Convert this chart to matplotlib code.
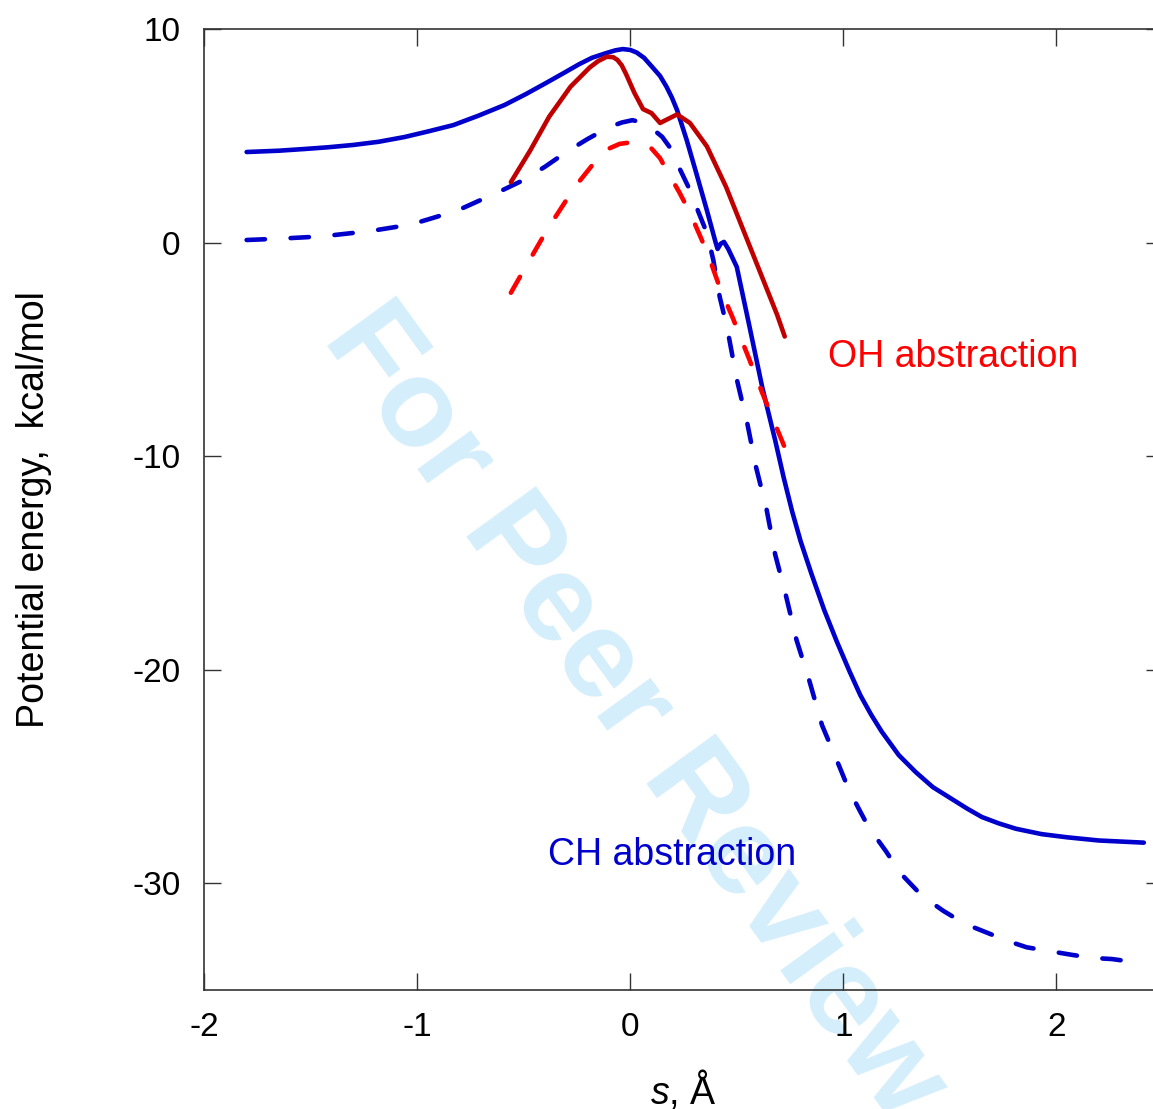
import matplotlib
matplotlib.use('Agg')
import matplotlib.pyplot as plt

plt.rcParams['font.family'] = ['Liberation Sans', 'DejaVu Sans']
plt.rcParams['axes.unicode_minus'] = False
plt.rcParams['mathtext.fontset'] = 'custom'
plt.rcParams['mathtext.it'] = 'Liberation Sans:italic'
plt.rcParams['mathtext.rm'] = 'Liberation Sans'

# ---------------------------------  data  ---------------------------------
# CH abstraction, solid
ch_solid_s = [-1.80, -1.65, -1.53, -1.42, -1.30, -1.18, -1.06, -0.95, -0.83, -0.71,
              -0.59, -0.49, -0.39, -0.31, -0.24, -0.18, -0.11, -0.07, -0.035, 0.0,
              0.03, 0.065, 0.105, 0.14, 0.17, 0.195, 0.22, 0.265, 0.31, 0.36,
              0.40, 0.41, 0.425, 0.44, 0.46, 0.50, 0.56, 0.62, 0.68, 0.72,
              0.76, 0.80, 0.85, 0.91, 0.97, 1.03, 1.08, 1.13, 1.18, 1.26,
              1.34, 1.42, 1.50, 1.58, 1.65, 1.73, 1.81, 1.93, 2.05, 2.20, 2.41]
ch_solid_e = [4.24, 4.30, 4.38, 4.46, 4.57, 4.72, 4.94, 5.2, 5.5, 5.95,
              6.44, 6.95, 7.5, 7.95, 8.35, 8.65, 8.88, 9.0, 9.06, 9.02,
              8.9, 8.65, 8.2, 7.8, 7.3, 6.8, 6.2, 4.8, 3.25, 1.5,
              0.03, -0.3, -0.05, 0.03, -0.3, -1.14, -3.95, -6.8, -9.25, -11.0,
              -12.6, -14.0, -15.5, -17.2, -18.7, -20.1, -21.2, -22.1, -22.9, -24.0,
              -24.8, -25.5, -26.0, -26.5, -26.9, -27.2, -27.45, -27.7, -27.85, -28.0, -28.1]

# CH abstraction, dashed
ch_dash_s = [-1.80, -1.65, -1.50, -1.40, -1.30, -1.20, -1.10, -1.00, -0.91, -0.80,
             -0.70, -0.60, -0.50, -0.40, -0.30, -0.20, -0.10, -0.04, 0.01, 0.06,
             0.10, 0.15, 0.185, 0.23, 0.28, 0.32, 0.36, 0.39, 0.42, 0.455,
             0.50, 0.55, 0.59, 0.64, 0.68, 0.73, 0.78, 0.84, 0.90, 0.98,
             1.025, 1.077, 1.12, 1.20, 1.265, 1.37, 1.47, 1.57, 1.67, 1.77,
             1.86, 1.98, 2.07, 2.17, 2.26, 2.37]
ch_dash_e = [0.12, 0.18, 0.26, 0.34, 0.45, 0.57, 0.73, 0.93, 1.2, 1.55,
             2.0, 2.45, 2.93, 3.55, 4.24, 4.85, 5.4, 5.62, 5.73, 5.62,
             5.36, 4.95, 4.47, 3.5, 2.46, 1.43, 0.44, -0.82, -2.55, -4.0,
             -6.4, -8.5, -10.5, -12.5, -14.6, -16.5, -18.6, -20.5, -22.6, -24.5,
             -25.6, -26.6, -27.4, -28.5, -29.5, -30.6, -31.3, -31.9, -32.3, -32.7,
             -33.0, -33.2, -33.35, -33.5, -33.55, -33.7]

# OH abstraction, solid
oh_solid_s = [-0.56, -0.47, -0.38, -0.28, -0.19, -0.15, -0.11, -0.08, -0.06, -0.04,
              -0.02, 0.02, 0.06, 0.10, 0.14, 0.18, 0.22, 0.28, 0.36, 0.45,
              0.55, 0.64, 0.69, 0.725]
oh_solid_e = [2.83, 4.3, 5.9, 7.3, 8.2, 8.5, 8.7, 8.68, 8.55, 8.3,
              7.9, 7.0, 6.25, 6.06, 5.6, 5.8, 6.0, 5.6, 4.5, 2.6,
              0.1, -2.15, -3.4, -4.4]

# OH abstraction, dashed
oh_dash_s = [-0.56, -0.50, -0.39, -0.26, -0.18, -0.10, -0.05, 0.01, 0.06, 0.10,
             0.14, 0.17, 0.23, 0.28, 0.33, 0.37, 0.42, 0.48, 0.56, 0.62, 0.725]
oh_dash_e = [-2.35, -1.3, 0.6, 2.6, 3.6, 4.4, 4.62, 4.7, 4.6, 4.4,
             3.95, 3.4, 2.36, 1.4, 0.26, -0.7, -2.1, -3.5, -5.5, -7.05, -9.6]

x_ticks = [-2, -1, 0, 1, 2]
y_ticks = [-30, -20, -10, 0, 10]

blue = '#0000cc'
dark_red = '#c00000'
red = '#ff0000'

# ---------------------------------  figure  ---------------------------------
fig = plt.figure(figsize=(11.53, 11.09), dpi=100)
ax = fig.add_axes([204 / 1153, 119 / 1109, 959 / 1153, 961 / 1109])
ax.set_facecolor('none')

fig.text(322 / 1153, 1 - 338 / 1109, 'For Peer Review', rotation=-54,
         rotation_mode='anchor', ha='left', va='baseline', fontsize=90,
         fontweight='bold', color='#d4eefb', zorder=-1)

lw = 3.3
dash = (4.0, 5.6)
ax.plot(ch_solid_s, ch_solid_e, color=blue, lw=lw, solid_capstyle='round', solid_joinstyle='round')
ax.plot(ch_dash_s, ch_dash_e, color=blue, lw=lw, dashes=dash, dash_capstyle='round',
        dash_joinstyle='round')
ax.plot(oh_solid_s, oh_solid_e, color=dark_red, lw=lw, solid_capstyle='round', solid_joinstyle='round')
ax.plot(oh_dash_s, oh_dash_e, color=red, lw=lw, dashes=dash, dash_capstyle='round',
        dash_joinstyle='round')

ax.text(0.926, -5.83, 'OH abstraction', color=red, fontsize=27, ha='left', va='baseline')
ax.text(-0.385, -29.15, 'CH abstraction', color=blue, fontsize=27, ha='left', va='baseline')

ax.set_xlim(-2, 2.5)
ax.set_ylim(-35, 10)
ax.set_xticks(x_ticks)
ax.set_yticks(y_ticks)
ax.tick_params(direction='in', length=12, width=1, top=True, right=True,
               labelsize=24, color='#333333')
ax.tick_params(axis='x', pad=16)
ax.tick_params(axis='y', pad=17)
for sp in ax.spines.values():
    sp.set_linewidth(1.2)
    sp.set_color('#333333')

ax.set_xlabel(r'$s$, Å', fontsize=27, labelpad=18)
ax.set_ylabel('Potential energy,  kcal/mol', fontsize=27, labelpad=58)

fig.savefig('out.png', dpi=100)
